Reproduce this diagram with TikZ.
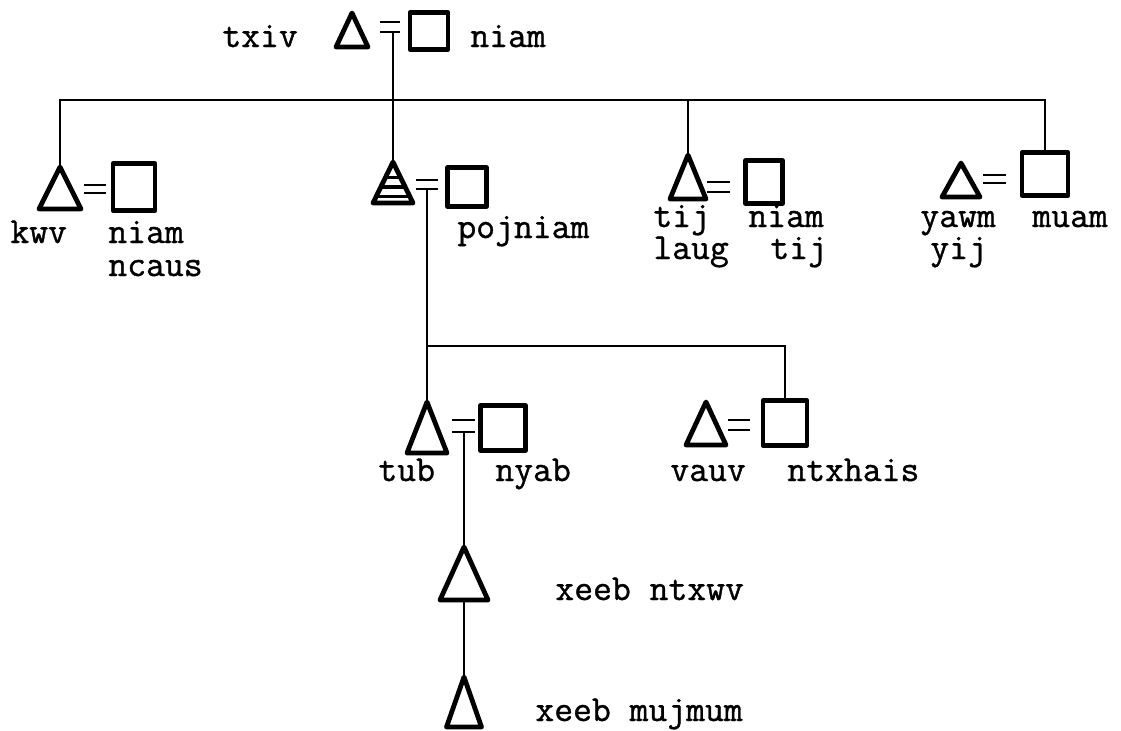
\documentclass[tikz,border=0pt]{standalone}
\usepackage{fontspec}
\usepackage{tikz}
\usetikzlibrary{shapes.geometric, calc}
\newfontfamily\typer{Latin Modern Mono}[FakeBold=1.0]
\tikzset{
    male/.style={
        isosceles triangle, isosceles triangle stretches, shape border rotate=90,
        minimum width=21pt, minimum height=21pt, inner sep=0pt, outer sep=0pt,
        draw=black, line width=2.4pt, line join=round
    },
    hatched/.style={male, path picture={
        \foreach \f in {0.15,0.39,0.63}
            \draw[line width=1.6pt] ($(path picture bounding box.south west)!\f!(path picture bounding box.north west)$) -- ++(40pt,0pt);
    }},
    female/.style={
        rectangle, minimum width=20pt, minimum height=22pt, inner sep=0pt, outer sep=0pt,
        draw=black, line width=2.4pt, line join=round
    },
    link/.style={line width=1.2pt},
    wed/.style={line width=1.3pt},
    lbl/.style={font=\typer\fontsize{18.3pt}{22pt}\selectfont, inner sep=0pt, anchor=base west},
}
\begin{document}
\begin{tikzpicture}[x=0.5pt, y=-0.5pt]
    \useasboundingbox (0,0) rectangle (1121,730);
    \coordinate (bar) at (0,100);
    \coordinate (bar2) at (0,346);

    % parents
    \node[lbl] (ltxiv) at (222,47) {txiv};
    \node[male, minimum width=16pt, minimum height=17pt, anchor=apex] (txiv) at (352,13) {};
    \draw[wed] (380,22) -- (400,22) (380,32) -- (400,32);
    \coordinate (u0) at (393,32);
    \node[female, minimum width=19pt, minimum height=18.5pt] (niam) at (429,31) {};
    \node[lbl] (lniam) at (470,47) {niam};

    % siblings
    \node[male, anchor=apex] (kwv) at (60,167) {};
    \draw[wed] (84,185) -- (106,185) (84,193) -- (106,193);
    \node[female, minimum width=21pt, minimum height=23.5pt] (ncaus) at (134,187) {};
    \node[lbl] (lkwv) at (10,243) {kwv};
    \node[lbl] (lncaus1) at (108,243) {niam};
    \node[lbl] (lncaus2) at (108,276) {ncaus};

    \node[hatched, minimum width=20pt, minimum height=20.5pt, anchor=apex] (ego) at (393,162) {};
    \draw[wed] (416,180) -- (438,180) (416,189) -- (438,189);
    \coordinate (u1) at (427,189);
    \node[female, minimum width=19.5pt, minimum height=19.5pt] (pojniam) at (467,187) {};
    \node[lbl] (lpojniam) at (457,238) {pojniam};

    \node[male, minimum width=18pt, minimum height=22pt, anchor=apex] (tij) at (688,155) {};
    \draw[wed] (707,182) -- (730,182) (707,192) -- (730,192);
    \node[female, minimum width=18.5pt, minimum height=21.5pt] (tijniam) at (764,182) {};
    \node[lbl] (ltij1) at (653,227) {tij};
    \node[lbl] (ltij2) at (653,259) {laug};
    \node[lbl] (ltijniam1) at (748,227) {niam};
    \node[lbl] (ltijniam2) at (770,259) {tij};

    \node[male, minimum width=19pt, minimum height=17pt, anchor=apex] (yawm) at (961,163) {};
    \draw[wed] (983,175) -- (1006,175) (983,183) -- (1006,183);
    \node[female, minimum width=23pt, minimum height=21.5pt] (muam) at (1045,174) {};
    \node[lbl] (lyawm1) at (920,227) {yawm};
    \node[lbl] (lyawm2) at (930,259) {yij};
    \node[lbl] (lmuam) at (1032,227) {muam};

    % children
    \node[male, minimum width=20pt, minimum height=25.5pt, anchor=apex] (tub) at (427,402) {};
    \draw[wed] (452,420) -- (475,420) (452,432) -- (475,432);
    \coordinate (u2) at (464,432);
    \node[female, minimum width=22.5pt, minimum height=22.5pt] (nyab) at (503,428) {};
    \node[lbl] (ltub) at (378,481) {tub};
    \node[lbl] (lnyab) at (495,481) {nyab};

    \node[male, minimum width=20pt, minimum height=21.5pt, anchor=apex] (vauv) at (706,402) {};
    \draw[wed] (728,420) -- (750,420) (728,430) -- (750,430);
    \node[female, minimum width=22pt, minimum height=22.5pt] (ntxhais) at (785,423) {};
    \node[lbl] (lvauv) at (670,481) {vauv};
    \node[lbl] (lntxhais) at (787,481) {ntxhais};

    % grandson, great-grandson
    \node[male, minimum width=24pt, minimum height=26.5pt, anchor=apex] (ntxwv) at (464,547) {};
    \node[lbl] (lntxwv) at (555,600) {xeeb ntxwv};
    \node[male, minimum width=17.5pt, minimum height=25pt, anchor=apex] (mujmum) at (464,677) {};
    \node[lbl] (lmujmum) at (535,721) {xeeb mujmum};

    \draw[link] (u0) -- (ego.apex);
    \draw[link] (kwv.apex) -- (kwv.apex |- bar) -- (muam.north |- bar) -- (muam.north);
    \draw[link] (tij.apex) -- (tij.apex |- bar);
    \draw[link] (u1) -- (tub.apex);
    \draw[link] (u1 |- bar2) -- (ntxhais.north |- bar2) -- (ntxhais.north);
    \draw[link] (u2) -- (ntxwv.apex);
    \draw[link] (ntxwv.lower side) -- (mujmum.apex);
\end{tikzpicture}
\end{document}
